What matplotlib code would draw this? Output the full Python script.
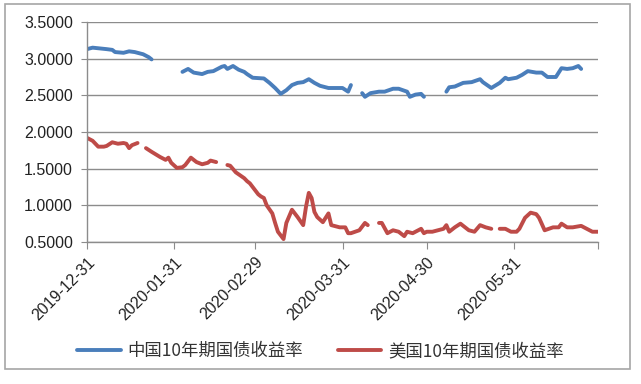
import matplotlib
matplotlib.use("Agg")
import matplotlib.pyplot as plt
from matplotlib.patches import Rectangle
from matplotlib.transforms import ScaledTranslation
import numpy as np
import pandas as pd

plt.rcParams['font.family'] = ['Liberation Sans', 'Noto Sans CJK SC', 'DejaVu Sans']

# China 10Y government bond yield (None = gap / holiday)
cn_dates = ["2019-12-31", "2020-01-02", "2020-01-07", "2020-01-09", "2020-01-10", "2020-01-13",
            "2020-01-15", "2020-01-17", "2020-01-20", "2020-01-22", "2020-01-23", "2020-01-28",
            "2020-02-03", "2020-02-05", "2020-02-07", "2020-02-10", "2020-02-12", "2020-02-14",
            "2020-02-17", "2020-02-18", "2020-02-19", "2020-02-21", "2020-02-23", "2020-02-25",
            "2020-02-26", "2020-02-28", "2020-03-03", "2020-03-05", "2020-03-07", "2020-03-09",
            "2020-03-11", "2020-03-13", "2020-03-15", "2020-03-17", "2020-03-19", "2020-03-21",
            "2020-03-23", "2020-03-26", "2020-03-29", "2020-03-31", "2020-04-02", "2020-04-03",
            "2020-04-05",
            "2020-04-07", "2020-04-08", "2020-04-10", "2020-04-13", "2020-04-15", "2020-04-18",
            "2020-04-20", "2020-04-23", "2020-04-24", "2020-04-26", "2020-04-28", "2020-04-29",
            "2020-05-03",
            "2020-05-07", "2020-05-08", "2020-05-10", "2020-05-13", "2020-05-16", "2020-05-19",
            "2020-05-20", "2020-05-23", "2020-05-26", "2020-05-28", "2020-05-29", "2020-06-01",
            "2020-06-03", "2020-06-05", "2020-06-08", "2020-06-10", "2020-06-12", "2020-06-15",
            "2020-06-17", "2020-06-19", "2020-06-21", "2020-06-23", "2020-06-24"]
cn_values = [3.13, 3.15, 3.13, 3.12, 3.09, 3.08,
             3.10, 3.09, 3.06, 3.02, 2.99, None,
             2.82, 2.86, 2.81, 2.79, 2.82, 2.83,
             2.89, 2.90, 2.86, 2.90, 2.85, 2.82,
             2.79, 2.74, 2.73, 2.67, 2.60, 2.52,
             2.57, 2.64, 2.67, 2.68, 2.72, 2.67,
             2.63, 2.60, 2.60, 2.60, 2.55, 2.64,
             None,
             2.53, 2.48, 2.53, 2.55, 2.55, 2.59,
             2.59, 2.55, 2.48, 2.51, 2.52, 2.48,
             None,
             2.55, 2.61, 2.62, 2.67, 2.68, 2.72,
             2.68, 2.60, 2.67, 2.74, 2.72, 2.74,
             2.78, 2.83, 2.81, 2.81, 2.75, 2.75,
             2.87, 2.86, 2.87, 2.90, 2.86]

# US 10Y treasury yield (None = gap / holiday)
us_dates = ["2019-12-31", "2020-01-02", "2020-01-04", "2020-01-06", "2020-01-07", "2020-01-09",
            "2020-01-11", "2020-01-13", "2020-01-14", "2020-01-15", "2020-01-16", "2020-01-18",
            "2020-01-20",
            "2020-01-21", "2020-01-23", "2020-01-26", "2020-01-28", "2020-01-29", "2020-01-30",
            "2020-02-01", "2020-02-03", "2020-02-04", "2020-02-06", "2020-02-08", "2020-02-10",
            "2020-02-12", "2020-02-13", "2020-02-15", "2020-02-17",
            "2020-02-19", "2020-02-20", "2020-02-22", "2020-02-25", "2020-02-26", "2020-02-27",
            "2020-03-01", "2020-03-02", "2020-03-03", "2020-03-04", "2020-03-06", "2020-03-07",
            "2020-03-08", "2020-03-10", "2020-03-11", "2020-03-13", "2020-03-15", "2020-03-17",
            "2020-03-18", "2020-03-19", "2020-03-20", "2020-03-21", "2020-03-22", "2020-03-24",
            "2020-03-26", "2020-03-27", "2020-03-30", "2020-04-01", "2020-04-02", "2020-04-03",
            "2020-04-06", "2020-04-08", "2020-04-09", "2020-04-11",
            "2020-04-13", "2020-04-14", "2020-04-16", "2020-04-18", "2020-04-20", "2020-04-22",
            "2020-04-23", "2020-04-25", "2020-04-27", "2020-04-28", "2020-04-29", "2020-04-30",
            "2020-05-02", "2020-05-06", "2020-05-07", "2020-05-08", "2020-05-10", "2020-05-12",
            "2020-05-15", "2020-05-17", "2020-05-19", "2020-05-21", "2020-05-23", "2020-05-25",
            "2020-05-26", "2020-05-28", "2020-05-30", "2020-06-01", "2020-06-02", "2020-06-04",
            "2020-06-06", "2020-06-08", "2020-06-09", "2020-06-11", "2020-06-14", "2020-06-16",
            "2020-06-17", "2020-06-19", "2020-06-21", "2020-06-24", "2020-06-26", "2020-06-28",
            "2020-06-30"]
us_values = [1.92, 1.88, 1.80, 1.80, 1.81, 1.86,
             1.84, 1.85, 1.84, 1.78, 1.82, 1.85,
             None,
             1.78, 1.73, 1.66, 1.62, 1.65, 1.58,
             1.51, 1.52, 1.55, 1.65, 1.59, 1.56,
             1.58, 1.61, 1.59, None,
             1.55, 1.54, 1.45, 1.37, 1.33, 1.30,
             1.15, 1.12, 1.10, 1.00, 0.89, 0.76,
             0.64, 0.54, 0.76, 0.94, 0.84, 0.73,
             0.98, 1.17, 1.10, 0.91, 0.84, 0.77,
             0.89, 0.73, 0.70, 0.70, 0.62, 0.62,
             0.66, 0.76, 0.73, None,
             0.76, 0.76, 0.62, 0.66, 0.64, 0.58,
             0.64, 0.62, 0.66, 0.68, 0.62, 0.64,
             0.64, 0.68, 0.73, 0.64, 0.70, 0.75,
             0.66, 0.64, 0.73, 0.70, 0.68, None,
             0.68, 0.68, 0.64, 0.64, 0.68, 0.83,
             0.90, 0.88, 0.83, 0.66, 0.70, 0.70,
             0.75, 0.70, 0.70, 0.72, 0.68, 0.64,
             0.64]

series_labels = ["中国10年期国债收益率", "美国10年期国债收益率"]
x_ticks = ["2019-12-31", "2020-01-31", "2020-02-29", "2020-03-31", "2020-04-30", "2020-05-31"]
x_end = "2020-06-30"
y_ticks = [0.5, 1.0, 1.5, 2.0, 2.5, 3.0, 3.5]

W, H = 641, 384
fig = plt.figure(figsize=(W / 100, H / 100), dpi=100)
fig.patch.set_facecolor("white")

# outer chart border
fig.patches.append(Rectangle((5 / W, 1 - 369 / H), 625 / W, 365 / H, transform=fig.transFigure,
                             fill=False, edgecolor="#a6a6a6", linewidth=1.2))

ax = fig.add_axes([87 / W, 1 - 242 / H, 511 / W, 220 / H])

cn_x = pd.to_datetime(cn_dates)
us_x = pd.to_datetime(us_dates)
cn_y = np.array([np.nan if v is None else v for v in cn_values], dtype=float)
us_y = np.array([np.nan if v is None else v for v in us_values], dtype=float)

ax.plot(cn_x, cn_y, color="#4a7ebb", lw=2.8, solid_joinstyle="round", solid_capstyle="round",
        label=series_labels[0])
ax.plot(us_x, us_y, color="#be4b48", lw=2.8, solid_joinstyle="round", solid_capstyle="round",
        label=series_labels[1])

ax.set_xlim(pd.Timestamp(x_ticks[0]), pd.Timestamp(x_end))
ax.set_ylim(0.5, 3.5)
ax.set_yticks(y_ticks)
ax.set_yticklabels([f"{v:.4f}" for v in y_ticks], fontsize=11.5, color="#222222")
tick_pos = [pd.Timestamp(t) for t in x_ticks] + [pd.Timestamp(x_end)]
ax.set_xticks(tick_pos)
ax.set_xticklabels(x_ticks + [""], rotation=45, ha="right", va="top", fontsize=11.5,
                   color="#222222", rotation_mode="anchor")
shift = ScaledTranslation(0.06, -0.10, fig.dpi_scale_trans)
for lab in ax.get_xticklabels():
    lab.set_transform(lab.get_transform() + shift)

ax.grid(axis="y", color="#8c8c8c", linewidth=1.0)
ax.set_axisbelow(True)
for s in ["top", "right"]:
    ax.spines[s].set_visible(False)
for s in ["left", "bottom"]:
    ax.spines[s].set_color("#8c8c8c")
    ax.spines[s].set_linewidth(1.0)
ax.tick_params(axis="x", direction="out", length=5, color="#8c8c8c", pad=4)
ax.tick_params(axis="y", direction="out", length=4, color="#8c8c8c", pad=6)

leg = fig.legend(loc="center", bbox_to_anchor=(0.5, 1 - 351 / H), ncol=2, frameon=False,
                 prop={"family": ["Noto Sans CJK SC", "DejaVu Sans"], "size": 12.5},
                 handlelength=2.5, handletextpad=0.4, columnspacing=2.0)
for t in leg.get_texts():
    t.set_color("#333333")

fig.savefig("out.png", dpi=100)
